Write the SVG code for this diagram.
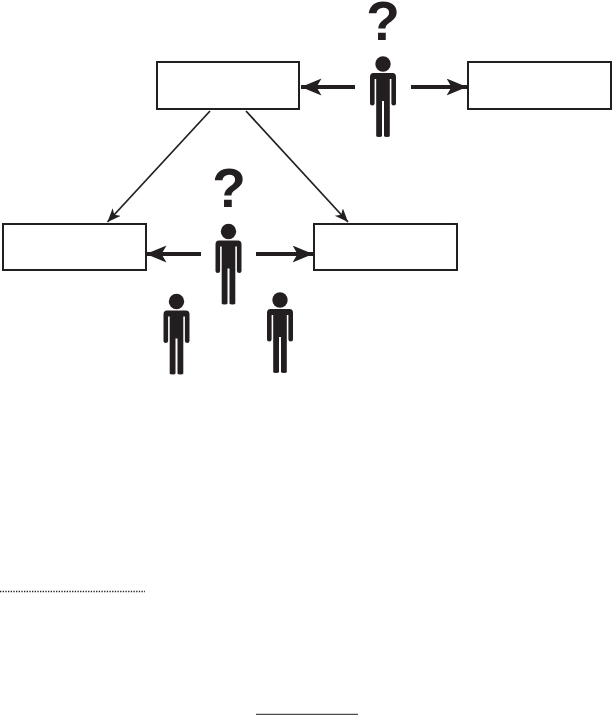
<svg xmlns="http://www.w3.org/2000/svg" xmlns:xlink="http://www.w3.org/1999/xlink" width="612" height="715" viewBox="0 0 612 715">
<style>
.box{fill:#fff;stroke:#231f20;stroke-width:2}
.thick{fill:none;stroke:#231f20;stroke-width:4;marker-end:url(#big)}
.thin{fill:none;stroke:#231f20;stroke-width:1.75;marker-end:url(#small)}
.q{font-family:"Liberation Sans",Arial,sans-serif;font-weight:700;font-size:55px;fill:#231f20;text-anchor:middle}
.p{fill:#231f20}
</style>
<defs>
<marker id="big" markerUnits="userSpaceOnUse" markerWidth="22" markerHeight="18" refX="20.500" refY="8.500" orient="auto"><path d="M0 0L20.500 8.500L0 17L5 8.500Z" fill="#231f20"/></marker>
<marker id="small" markerUnits="userSpaceOnUse" markerWidth="15" markerHeight="12" refX="13.500" refY="5.500" orient="auto"><path d="M0 0L13.500 5.500L0 11L3.500 5.500Z" fill="#231f20"/></marker>
<g id="person-shape">
<circle cx="0" cy="0" r="7.7" class="p"/>
<path class="p" d="M-9.500 9H9.500Q13 9 13 13V39.500Q13 41.500 10.800 41.500Q8.400 41.500 8.400 39.500V15H6.800V72Q6.800 73 4 73Q1 73 1 72V37H-1V72Q-1 73 -4 73Q-6.800 73 -6.800 72V15H-8.400V39.500Q-8.400 41.500 -10.800 41.500Q-13 41.500 -13 39.500V13Q-13 9 -9.500 9Z"/>
</g>
</defs>
<g id="connectors">
<path class="thick" d="M355 87H301"/>
<path class="thick" d="M411 87H467"/>
<path class="thick" d="M201 254H146"/>
<path class="thick" d="M256 254H313"/>
<path class="thin" d="M210 111L107.500 222"/>
<path class="thin" d="M246 111L348 222"/>
</g>
<g id="box-top"><rect class="box" x="157" y="62" width="142" height="47"/></g>
<g id="box-right"><rect class="box" x="468" y="62" width="143" height="47"/></g>
<g id="box-left"><rect class="box" x="3" y="224" width="143" height="46"/></g>
<g id="box-mid"><rect class="box" x="314" y="224" width="143" height="46"/></g>
<g id="person-top"><text class="q" x="383" y="40">?</text><use xlink:href="#person-shape" href="#person-shape" x="383" y="64"/></g>
<g id="person-mid"><text class="q" x="229" y="207">?</text><use xlink:href="#person-shape" href="#person-shape" x="228.500" y="231.500"/></g>
<g id="person-left"><use xlink:href="#person-shape" href="#person-shape" x="176.500" y="301.500"/></g>
<g id="person-right"><use xlink:href="#person-shape" href="#person-shape" x="280" y="300"/></g>
<path d="M0 591.500H145" fill="none" stroke="#231f20" stroke-width="1.300" stroke-dasharray="1.300 1.370"/>
<path d="M256 714.300H358" fill="none" stroke="#231f20" stroke-width="1"/>
</svg>
